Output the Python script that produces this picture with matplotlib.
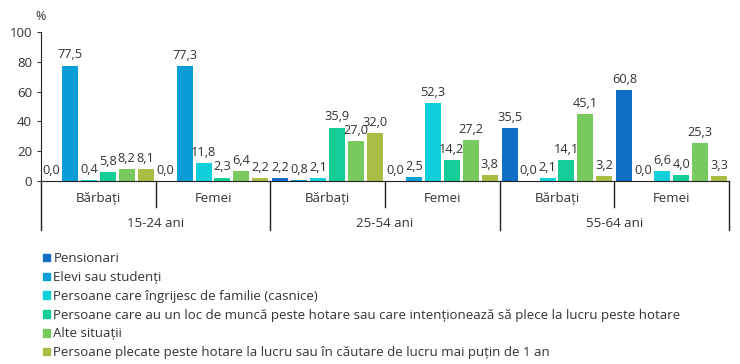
import numpy as np
import matplotlib
matplotlib.use('Agg')
import matplotlib.pyplot as plt
from matplotlib.patches import Patch

plt.rcParams['font.family'] = ['Open Sans', 'DejaVu Sans']

subgroups = ['Bărbați', 'Femei', 'Bărbați', 'Femei', 'Bărbați', 'Femei']
age_groups = ['15-24 ani', '25-54 ani', '55-64 ani']
series = ['Pensionari',
          'Elevi sau studenți',
          'Persoane care îngrijesc de familie (casnice)',
          'Persoane care au un loc de muncă peste hotare sau care intenționează să plece la lucru peste hotare',
          'Alte situații',
          'Persoane plecate peste hotare la lucru sau în căutare de lucru mai puțin de 1 an']
colors = ['#1170C5', '#0A9ED8', '#0DD0D8', '#14CC96', '#78C95E', '#A8BE44']

pensionari = [0.0, 0.0, 2.2, 0.0, 35.5, 60.8]
elevi = [77.5, 77.3, 0.8, 2.5, 0.0, 0.0]
casnice = [0.4, 11.8, 2.1, 52.3, 2.1, 6.6]
munca_hotare = [5.8, 2.3, 35.9, 14.2, 14.1, 4.0]
alte = [8.2, 6.4, 27.0, 27.2, 45.1, 25.3]
plecate = [8.1, 2.2, 32.0, 3.8, 3.2, 3.3]
values = [pensionari, elevi, casnice, munca_hotare, alte, plecate]

fig = plt.figure(figsize=(7.4, 3.64), dpi=100)
ax = fig.add_axes([41/740, 1 - 181/364, (729-41)/740, 149/364])

x = np.arange(len(subgroups))
slot = 0.165
width = 0.14
for k, (vals, c) in enumerate(zip(values, colors)):
    bars = ax.bar(x + (k - 2.5) * slot, vals, width, color=c)
    ax.bar_label(bars, labels=[('%.1f' % v).replace('.', ',') for v in vals],
                 padding=3, fontsize=9.2, color='#333333')

ax.set_xlim(-0.5, len(subgroups) - 0.5)
ax.set_ylim(0, 100)
ax.set_yticks(range(0, 101, 20))
ax.tick_params(axis='y', labelsize=9.5, length=3, colors='#333333')
ax.tick_params(axis='x', bottom=False, labelbottom=False)
for s in ['top', 'right']:
    ax.spines[s].set_visible(False)
ax.spines['left'].set_color('#222222')
ax.spines['bottom'].set_color('#222222')
ax.text(-0.5, 106, '%', ha='center', va='bottom', fontsize=9, color='#333333')

# two-level category axis
tr = ax.get_xaxis_transform()
for i in range(len(subgroups) + 1):
    low = -0.329 if i % 2 == 0 else -0.1745
    ax.plot([i - 0.5, i - 0.5], [0, low], color='#222222', lw=1, transform=tr, clip_on=False)
for i, name in enumerate(subgroups):
    ax.text(i, -0.115, name, transform=tr, ha='center', va='center', fontsize=9.5, color='#333333')
for j, name in enumerate(age_groups):
    ax.text(2 * j + 0.5, -0.282, name, transform=tr, ha='center', va='center', fontsize=9.5, color='#333333')

handles = [Patch(color=c) for c in colors]
fig.legend(handles, series, loc='upper left', bbox_to_anchor=(0.058, 0.307),
           frameon=False, fontsize=9.5, handlelength=0.5, handleheight=0.5,
           handletextpad=0.3, labelspacing=0.44, borderpad=0, borderaxespad=0,
           labelcolor='#333333')

fig.savefig('out.png', dpi=100)
